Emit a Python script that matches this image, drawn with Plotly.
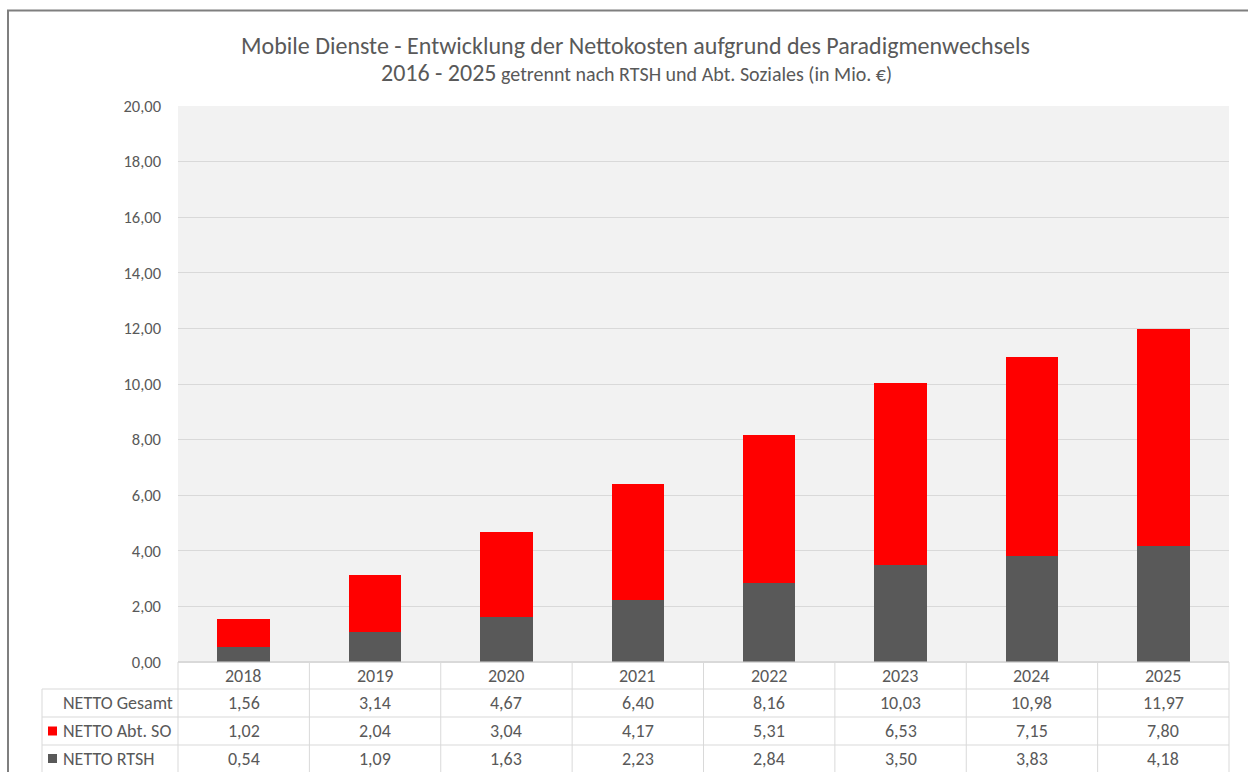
import plotly.graph_objects as go

years = ["2018", "2019", "2020", "2021", "2022", "2023", "2024", "2025"]
netto_gesamt = [1.56, 3.14, 4.67, 6.40, 8.16, 10.03, 10.98, 11.97]
netto_abt_so = [1.02, 2.04, 3.04, 4.17, 5.31, 6.53, 7.15, 7.80]
netto_rtsh = [0.54, 1.09, 1.63, 2.23, 2.84, 3.50, 3.83, 4.18]
y_ticks = [0, 2, 4, 6, 8, 10, 12, 14, 16, 18, 20]

W, H = 1248, 772
L, R, T, B = 178, 1229, 106, 662
FONT = "Carlito, Lato, 'Liberation Sans', sans-serif"
TXT = "#595959"
GRID = "#d9d9d9"
RED = "#ff0000"
DARK = "#595959"
TABLE_FS = 18

def px(x):
    return (x - L) / (R - L)

def py(y):
    return (B - y) / (B - T)

n = len(years)

def col_x(i):
    return L + (R - L) * i / n

fig = go.Figure()
fig.add_trace(go.Bar(x=years, y=netto_rtsh, name="NETTO RTSH",
                     marker=dict(color=DARK, line=dict(width=0)), width=0.4))
fig.add_trace(go.Bar(x=years, y=netto_abt_so, name="NETTO Abt. SO",
                     marker=dict(color=RED, line=dict(width=0)), width=0.4))

shapes = []
annotations = []

# outer frame (top and left)
shapes.append(dict(type="line", xref="paper", yref="paper", x0=px(7), x1=px(W + 2), y0=py(10.5), y1=py(10.5),
                   line=dict(color="#7f7f7f", width=2)))
shapes.append(dict(type="line", xref="paper", yref="paper", x0=px(8), x1=px(8), y0=py(10), y1=py(H + 2),
                   line=dict(color="#7f7f7f", width=2)))

# data table
row_lines = [662, 689, 717, 745]
row_centers = [675.5, 703, 731, 758.5]
for k, yl in enumerate(row_lines):
    x0 = L if k == 0 else 42
    shapes.append(dict(type="line", xref="paper", yref="paper", x0=px(x0), x1=px(R), y0=py(yl), y1=py(yl),
                       line=dict(color=GRID, width=1)))
for i in range(n + 1):
    xv = col_x(i)
    shapes.append(dict(type="line", xref="paper", yref="paper", x0=px(xv), x1=px(xv), y0=py(662), y1=py(H + 5),
                       line=dict(color=GRID, width=1)))
shapes.append(dict(type="line", xref="paper", yref="paper", x0=px(42), x1=px(42), y0=py(689), y1=py(H + 5),
                   line=dict(color=GRID, width=1)))

def fmt(v):
    return f"{v:.2f}".replace(".", ",")

rows = [years, [fmt(v) for v in netto_gesamt], [fmt(v) for v in netto_abt_so], [fmt(v) for v in netto_rtsh]]
for r, vals in enumerate(rows):
    for i, v in enumerate(vals):
        annotations.append(dict(xref="paper", yref="paper", x=px(col_x(i) + (R - L) / n / 2), y=py(row_centers[r]),
                                text=v, showarrow=False, xanchor="center", yanchor="middle",
                                font=dict(family=FONT, size=TABLE_FS, color=TXT)))

labels = ["NETTO Gesamt", "NETTO Abt. SO", "NETTO RTSH"]
markers = [None, RED, DARK]
for r, (lab, mc) in enumerate(zip(labels, markers)):
    yc = row_centers[r + 1]
    annotations.append(dict(xref="paper", yref="paper", x=px(61), y=py(yc), text=lab, showarrow=False,
                            xanchor="left", yanchor="middle", font=dict(family=FONT, size=TABLE_FS, color=TXT)))
    if mc:
        shapes.append(dict(type="rect", xref="paper", yref="paper", x0=px(48), x1=px(57),
                           y0=py(yc - 4.5), y1=py(yc + 4.5), fillcolor=mc, line=dict(width=0)))

# title
annotations.append(dict(xref="paper", yref="paper", x=px(635), y=py(45),
                        text="Mobile Dienste - Entwicklung der Nettokosten aufgrund des Paradigmenwechsels",
                        showarrow=False, xanchor="center", yanchor="middle",
                        font=dict(family=FONT, size=24, color=TXT)))
annotations.append(dict(xref="paper", yref="paper", x=px(636), y=py(73),
                        text="<span style='font-size:24px'>2016 - 2025</span> <span style='font-size:20px'>getrennt nach RTSH und Abt. Soziales (in Mio. €)</span>",
                        showarrow=False, xanchor="center", yanchor="middle",
                        font=dict(family=FONT, size=20, color=TXT)))

fig.update_layout(
    width=W, height=H,
    margin=dict(l=L, r=W - R, t=T, b=H - B, pad=0),
    paper_bgcolor="white", plot_bgcolor="#f2f2f2",
    barmode="stack", bargap=0.6, showlegend=False,
    separators=",.",
    font=dict(family=FONT, color=TXT, size=16),
    shapes=shapes, annotations=annotations,
    hovermode=False,
    xaxis=dict(showticklabels=False, ticks="", showgrid=False, showline=False, zeroline=False,
               range=[-0.5, n - 0.5]),
    yaxis=dict(range=[0, 20], tickvals=y_ticks, tickformat=".2f", showgrid=True, gridcolor=GRID,
               gridwidth=1, zeroline=True, zerolinecolor=GRID, showline=False, ticks="",
               ticklabelstandoff=16, tickfont=dict(family=FONT, size=16.5, color=TXT)),
)

fig.write_html("out.html", config={"displayModeBar": False},
               post_script="document.body.style.margin='0';document.body.style.overflow='hidden';")
